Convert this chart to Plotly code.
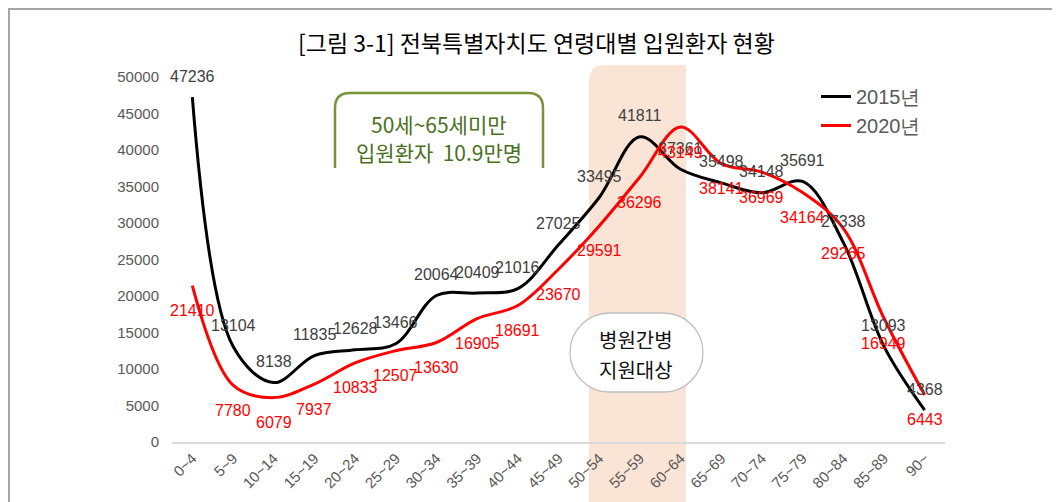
import plotly.graph_objects as go

categories = ["0~4", "5~9", "10~14", "15~19", "20~24", "25~29", "30~34", "35~39",
              "40~44", "45~49", "50~54", "55~59", "60~64", "65~69", "70~74",
              "75~79", "80~84", "85~89", "90~"]
values_2015 = [47236, 13104, 8138, 11835, 12628, 13466, 20064, 20409, 21016, 27025,
               33495, 41811, 37361, 35498, 34148, 35691, 27338, 13093, 4368]
values_2020 = [21410, 7780, 6079, 7937, 10833, 12507, 13630, 16905, 18691, 23670,
               29591, 36296, 43149, 38141, 36969, 34164, 29265, 16949, 6443]
y_ticks = [0, 5000, 10000, 15000, 20000, 25000, 30000, 35000, 40000, 45000, 50000]

title_text = "[그림 3-1] 전북특별자치도 연령대별 입원환자 현황"
green_note = ["50세~65세미만", "입원환자  10.9만명"]
pill_note = ["병원간병", "지원대상"]

# the page body has an 8px margin; figure is sized to fit inside the window
OFF = 8
W, H = 1060 - OFF, 502 - OFF
L, R, T, B = 172 - OFF, 115, 77 - OFF, 60
PW, PH = W - L - R, H - T - B

NUM_FONT = "Liberation Sans, Arial, sans-serif"
KR_FONT = "Noto Sans CJK KR, sans-serif"


def px(x):
    return (x - OFF - L) / PW


def py(y):
    return (H - B - (y - OFF)) / PH


def path(cmds):
    out = []
    for cmd in cmds:
        op = cmd[0]
        coords = cmd[1:]
        pts = [f"{px(coords[i]):.5f},{py(coords[i+1]):.5f}" for i in range(0, len(coords), 2)]
        out.append(op + " " + " ".join(pts))
    return " ".join(out)


x_idx = list(range(len(categories)))

fig = go.Figure()
fig.add_trace(go.Scatter(x=x_idx, y=values_2015, mode="lines", name="2015년",
                         line=dict(color="#000000", width=3, shape="spline", smoothing=1.0)))
fig.add_trace(go.Scatter(x=x_idx, y=values_2020, mode="lines", name="2020년",
                         line=dict(color="#FF0000", width=3, shape="spline", smoothing=1.0)))

annotations = []
for i, v in enumerate(values_2015):
    annotations.append(dict(x=i, y=v, xref="x", yref="y", text=str(v), showarrow=False,
                            yshift=21, font=dict(family=NUM_FONT, size=16, color="#404040")))
for i, v in enumerate(values_2020):
    annotations.append(dict(x=i, y=v, xref="x", yref="y", text=str(v), showarrow=False,
                            yshift=-25, font=dict(family=NUM_FONT, size=16, color="#FF0000")))

# title
annotations.append(dict(x=px(536), y=py(42), xref="paper", yref="paper", text=title_text,
                        showarrow=False, xanchor="center", yanchor="middle",
                        font=dict(family=KR_FONT, size=23, color="#000000")))
# green note text
for k, t in enumerate(green_note):
    annotations.append(dict(x=px(439), y=py(124 + 28 * k), xref="paper", yref="paper", text=t,
                            showarrow=False, xanchor="center", yanchor="middle",
                            font=dict(family=KR_FONT, size=21, color="#4A7023")))
# pill text
for k, t in enumerate(pill_note):
    annotations.append(dict(x=px(636), y=py(339 + 30 * k), xref="paper", yref="paper", text=t,
                            showarrow=False, xanchor="center", yanchor="middle",
                            font=dict(family=KR_FONT, size=20, color="#111111")))

shapes = []
# outer frame (left and top edges, as close to the window edge as the page allows)
shapes.append(dict(type="path", xref="paper", yref="paper",
                   path=path([("M", 9, 520), ("L", 9, 9), ("L", 1080, 9)]),
                   line=dict(color="#A6A6A6", width=2), layer="below"))
# peach band
r = 16
band = path([("M", 589, 520), ("L", 589, 65 + r), ("Q", 589, 65, 589 + r, 65),
             ("L", 686, 65), ("L", 686, 520)]) + " Z"
shapes.append(dict(type="path", xref="paper", yref="paper", path=band,
                   fillcolor="#FAE4D6", line=dict(width=0), layer="below"))
# green callout (open bottom)
r = 15
gp = path([("M", 335, 168), ("L", 335, 93 + r), ("Q", 335, 93, 335 + r, 93),
           ("L", 543 - r, 93), ("Q", 543, 93, 543, 93 + r), ("L", 543, 168)])
shapes.append(dict(type="path", xref="paper", yref="paper", path=gp,
                   line=dict(color="#77933C", width=2.5)))
# pill
x0, x1, y0, y1 = 570, 703, 313, 392
rr = (y1 - y0) / 2
k = 0.5523 * rr
pill = path([("M", x0 + rr, y0), ("L", x1 - rr, y0),
             ("C", x1 - rr + k, y0, x1, y0 + rr - k, x1, y0 + rr),
             ("C", x1, y0 + rr + k, x1 - rr + k, y1, x1 - rr, y1),
             ("L", x0 + rr, y1),
             ("C", x0 + rr - k, y1, x0, y0 + rr + k, x0, y0 + rr),
             ("C", x0, y0 + rr - k, x0 + rr - k, y0, x0 + rr, y0)]) + " Z"
shapes.append(dict(type="path", xref="paper", yref="paper", path=pill,
                   fillcolor="#FFFFFF", line=dict(color="#BFBFBF", width=1.3), layer="above"))

fig.update_layout(
    width=W, height=H,
    margin=dict(l=L, r=R, t=T, b=B, pad=0),
    paper_bgcolor="#FFFFFF", plot_bgcolor="rgba(0,0,0,0)",
    showlegend=True,
    legend=dict(x=px(816), y=py(77), xanchor="left", yanchor="top",
                bgcolor="rgba(0,0,0,0)", font=dict(family=NUM_FONT, size=20, color="#595959"),
                itemwidth=30, tracegroupgap=0),
    xaxis=dict(range=[-0.5, 18.5], tickmode="array", tickvals=x_idx, ticktext=categories,
               tickangle=-45, showgrid=False, zeroline=False, showline=True,
               linecolor="#D9D9D9", linewidth=1.5, ticks="",
               tickfont=dict(family=NUM_FONT, size=15, color="#595959")),
    yaxis=dict(range=[0, 50000], tickmode="array", tickvals=y_ticks,
               ticktext=[str(t) for t in y_ticks], showgrid=False, zeroline=False,
               showline=False, ticks="", ticklabelstandoff=12,
               tickfont=dict(family=NUM_FONT, size=15, color="#595959")),
    annotations=annotations,
    shapes=shapes,
)

fig.write_html("out.html")
